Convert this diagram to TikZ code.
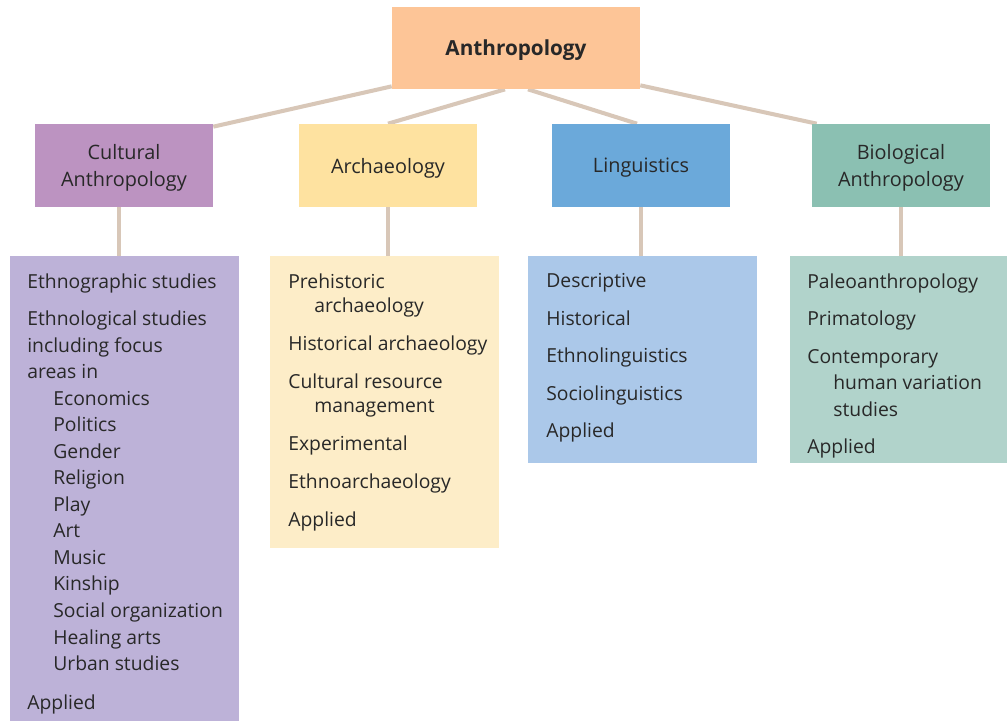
\documentclass[tikz,border=0pt]{standalone}
\usepackage{fontspec}
\setmainfont{Open Sans}
\usetikzlibrary{positioning, backgrounds}
\definecolor{TopOrange}{RGB}{253, 197, 151}
\definecolor{CultPurple}{RGB}{188, 147, 193}
\definecolor{ArchYellow}{RGB}{254, 226, 160}
\definecolor{LingBlue}{RGB}{107, 169, 218}
\definecolor{BioTeal}{RGB}{139, 192, 178}
\definecolor{CultLight}{RGB}{189, 178, 216}
\definecolor{ArchLight}{RGB}{253, 237, 200}
\definecolor{LingLight}{RGB}{171, 200, 233}
\definecolor{BioLight}{RGB}{177, 211, 203}
\definecolor{LinkTan}{RGB}{216, 199, 184}
\definecolor{TextGray}{RGB}{40, 40, 40}
\newcommand{\indt}{\hspace*{0.52cm}}

\begin{document}
\begin{tikzpicture}[x=0.02cm, y=-0.02cm, text=TextGray,
    font=\fontsize{11}{15.1}\selectfont,
    topbox/.style={fill=TopOrange, minimum width=4.96cm, minimum height=1.64cm,
      text depth=0pt, font=\fontsize{11.8}{15}\selectfont\bfseries},
    headbox/.style={minimum width=3.56cm, minimum height=1.66cm, align=center,
      text depth=0pt, font=\fontsize{11.3}{15.4}\selectfont},
    listbox/.style={anchor=north west, inner sep=0pt},
    items/.style={anchor=north west, align=left, inner sep=0pt},
    link/.style={draw=LinkTan, line width=2.3pt}]
    \useasboundingbox (0, 0) rectangle (1007, 721);

    % Top
    \node[topbox] (anth) at (516, 48) {Anthropology};

    % Fields
    \node[headbox, fill=CultPurple] (cult) at (124, 165.5) {Cultural\\Anthropology};
    \node[headbox, fill=ArchYellow] (arch) at (388, 165.5) {Archaeology};
    \node[headbox, fill=LingBlue] (ling) at (641, 165.5) {Linguistics};
    \node[headbox, fill=BioTeal] (bio) at (901, 165.5) {Biological\\Anthropology};

    % Subfield boxes
    \node[listbox, fill=CultLight, minimum width=4.58cm, minimum height=9.3cm] (cultlist) at (10, 256) {};
    \node[listbox, fill=ArchLight, minimum width=4.58cm, minimum height=5.84cm] (archlist) at (270, 256) {};
    \node[listbox, fill=LingLight, minimum width=4.58cm, minimum height=4.14cm] (linglist) at (528, 256) {};
    \node[listbox, fill=BioLight, minimum width=4.34cm, minimum height=4.14cm] (biolist) at (790, 256) {};

    % Subfield texts
    \node[items] (cultitems) at (27, 273) {Ethnographic studies\\[6.3pt]
      Ethnological studies\\including focus\\areas in\\
      \indt Economics\\\indt Politics\\\indt Gender\\\indt Religion\\
      \indt Play\\\indt Art\\\indt Music\\\indt Kinship\\
      \indt Social organization\\\indt Healing arts\\\indt Urban studies\\[7pt]
      Applied};
    \node[items] (architems) at (288, 273) {Prehistoric\\[-1.4pt]\indt archaeology\\[7pt]
      Historical archaeology\\[6.3pt]
      Cultural resource\\[-1.4pt]\indt management\\[6.6pt]
      Experimental\\[6.6pt]
      Ethnoarchaeology\\[6.3pt]
      Applied};
    \node[items] (lingitems) at (546, 273) {Descriptive\\[6.3pt]
      Historical\\[6.3pt]
      Ethnolinguistics\\[6.3pt]
      Sociolinguistics\\[6.3pt]
      Applied};
    \node[items] (bioitems) at (807, 273) {Paleoanthropology\\[6.3pt]
      Primatology\\[6.3pt]
      Contemporary\\\indt human variation\\\indt studies\\[6.3pt]
      Applied};

    % Connectors
    \begin{scope}[on background layer]
      \draw[link] ([yshift=0.06cm]anth.south west) -- ([yshift=-0.06cm]cult.north east);
      \draw[link] ([xshift=-0.22cm]anth.south) -- (arch.north);
      \draw[link] ([xshift=0.24cm]anth.south) -- ([xshift=-0.08cm]ling.north);
      \draw[link] ([yshift=0.08cm]anth.south east) -- ([xshift=0.1cm]bio.north west);
      \draw[link] ([xshift=-0.1cm]cult.south) -- ([xshift=-0.1cm]cult.south |- cultlist.north);
      \draw[link] (arch.south) -- (arch.south |- archlist.north);
      \draw[link] (ling.south) -- (ling.south |- linglist.north);
      \draw[link] (bio.south) -- (bio.south |- biolist.north);
    \end{scope}
\end{tikzpicture}
\end{document}
